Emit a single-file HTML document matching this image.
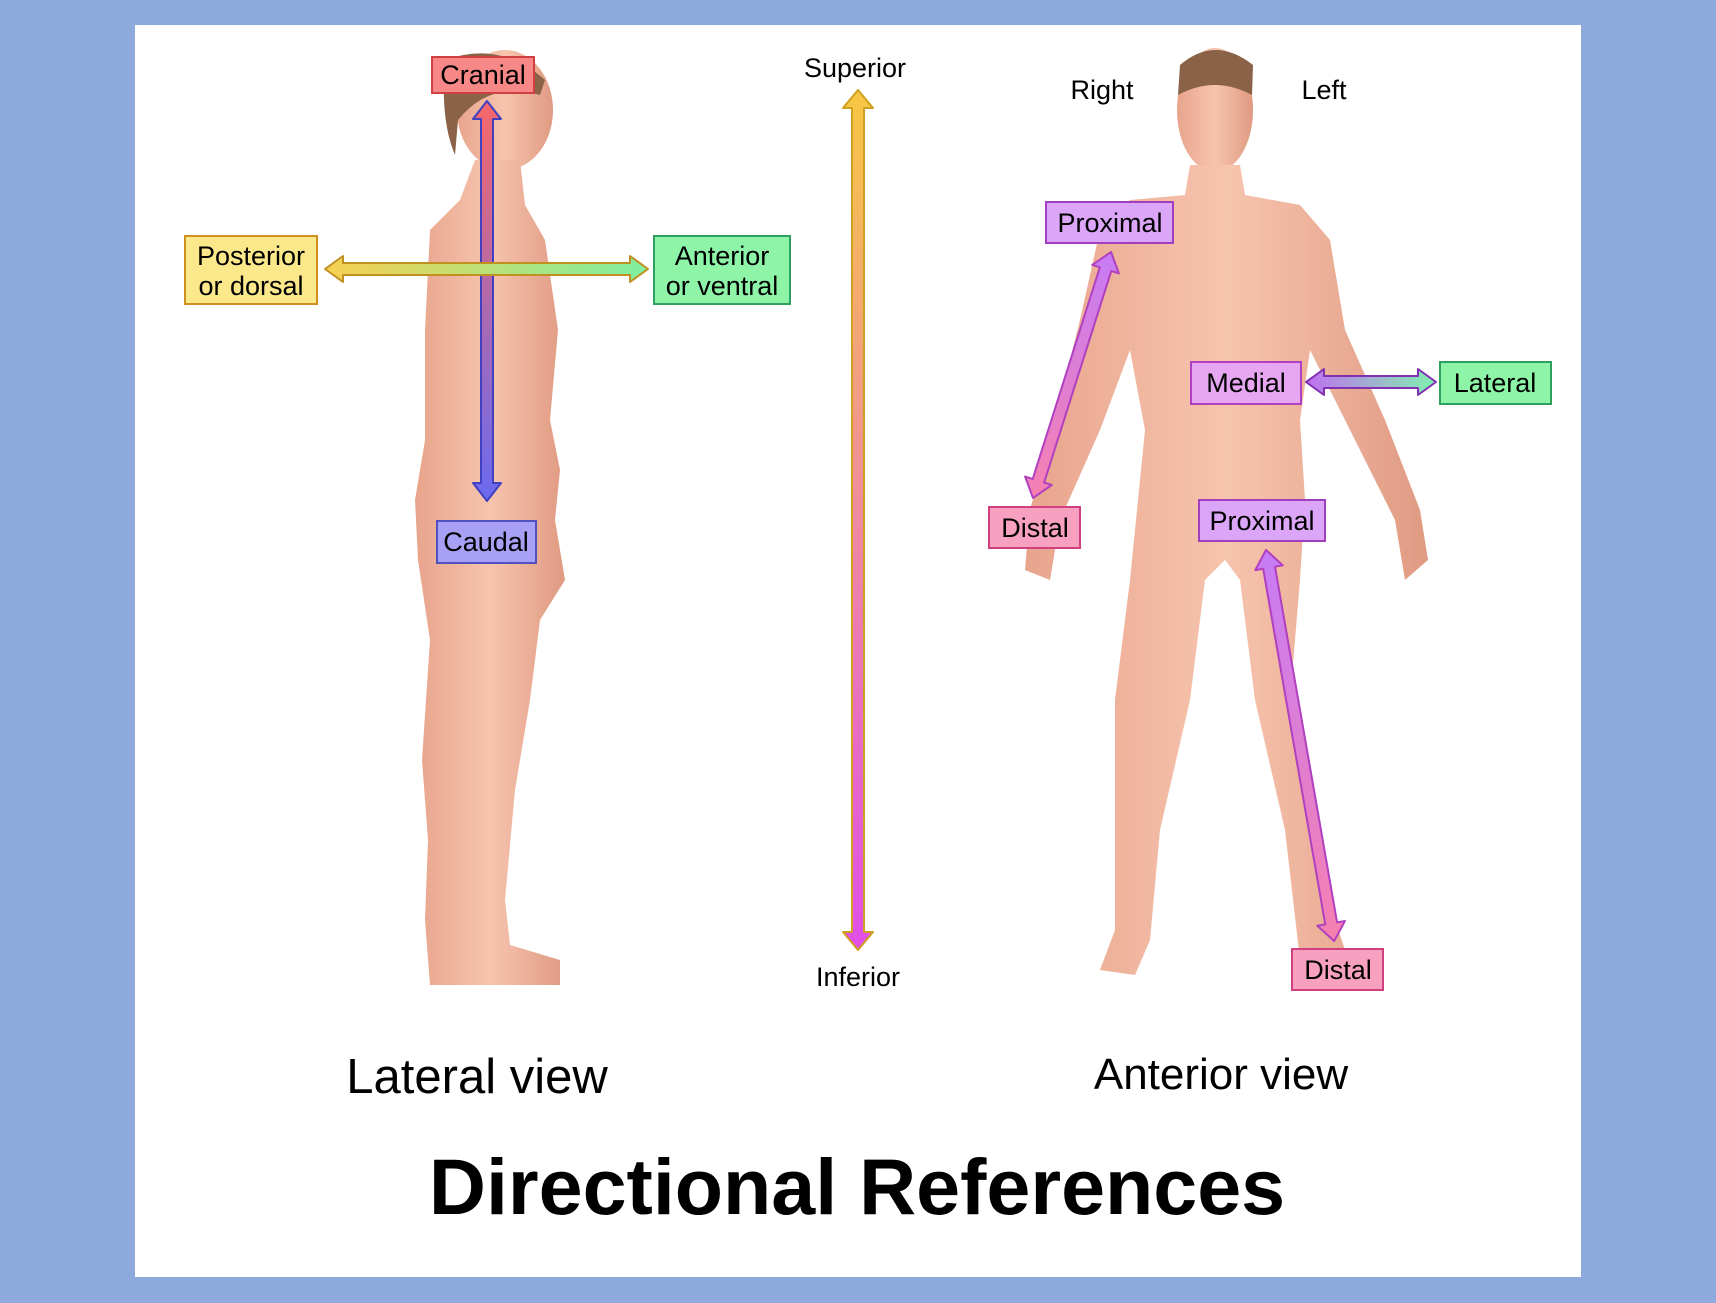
<!DOCTYPE html>
<html><head><meta charset="utf-8"><style>
body{margin:0;background:#8eaadc;width:1716px;height:1303px;overflow:hidden;font-family:"Liberation Sans",sans-serif}
svg{position:absolute;left:0;top:0}
</style></head><body>
<svg width="1716" height="1303" viewBox="0 0 1716 1303">
<defs>
<linearGradient id="skin" x1="0" x2="1"><stop offset="0" stop-color="#e8a48c"/><stop offset="0.5" stop-color="#f7c4ae"/><stop offset="1" stop-color="#e09a82"/></linearGradient>
<linearGradient id="gv" x1="0" y1="0" x2="0" y2="1"><stop offset="0" stop-color="#f7c842"/><stop offset="0.5" stop-color="#f08aa0"/><stop offset="1" stop-color="#e14ee8"/></linearGradient>
<linearGradient id="gc" x1="0" y1="0" x2="0" y2="1"><stop offset="0" stop-color="#f86868"/><stop offset="1" stop-color="#6a6af0"/></linearGradient>
<linearGradient id="gh" x1="0" x2="1"><stop offset="0" stop-color="#f7d050"/><stop offset="1" stop-color="#7ef0a0"/></linearGradient>
<linearGradient id="gm" x1="0" x2="1"><stop offset="0" stop-color="#c070f0"/><stop offset="1" stop-color="#80f0b0"/></linearGradient>
<linearGradient id="ga" x1="0" y1="0" x2="0" y2="1"><stop offset="0" stop-color="#c77cf5"/><stop offset="1" stop-color="#f580b0"/></linearGradient>
</defs>
<rect x="135" y="25" width="1446" height="1252" fill="#fff"/>
<!-- lateral body -->
<g fill="url(#skin)">
<ellipse cx="505" cy="110" rx="48" ry="60"/>
<path d="M475 160 L520 160 L525 205 L545 240 L558 330 L550 420 L560 470 L555 520 L565 580 L540 620 L530 700 L515 790 L505 900 L510 945 L560 960 L560 985 L430 985 L425 920 L428 840 L422 760 L430 640 L418 560 L415 500 L425 440 L425 330 L430 230 L460 200 Z"/>
</g>
<path d="M445 60 Q500 40 545 80 L540 95 Q490 80 458 120 L455 155 Q440 120 445 60Z" fill="#8a6248"/>
<!-- anterior body -->
<g fill="url(#skin)">
<ellipse cx="1215" cy="110" rx="38" ry="62"/>
<path d="M1190 165 L1240 165 L1245 195 L1300 205 L1330 240 L1345 330 L1385 420 L1420 510 L1428 560 L1405 580 L1395 520 L1350 430 L1310 350 L1300 420 L1305 500 L1300 580 L1290 700 L1320 830 L1335 920 L1345 950 L1335 965 L1300 960 L1285 830 L1255 700 L1240 580 L1225 560 L1215 570 L1205 580 L1190 700 L1160 830 L1150 940 L1135 975 L1100 970 L1115 930 L1115 830 L1115 700 L1130 580 L1145 430 L1130 350 L1100 430 L1060 520 L1050 580 L1025 570 L1030 510 L1055 420 L1080 320 L1100 230 L1130 200 L1185 195 Z"/>
</g>
<path d="M1180 65 Q1215 35 1253 65 L1252 95 Q1215 75 1178 95Z" fill="#8a6248"/>
<!-- arrows -->
<g stroke-width="2" stroke-linejoin="round">
<path d="M858 90 L873 108 L864 108 L864 932 L873 932 L858 950 L843 932 L852 932 L852 108 L843 108 Z" fill="url(#gv)" stroke="#d0a020"/>
<path d="M487 101 L501 119 L493 119 L493 483 L501 483 L487 501 L473 483 L481 483 L481 119 L473 119 Z" fill="url(#gc)" stroke="#4040c0"/>
<path d="M325 269 L343 256 L343 263 L630 263 L630 256 L648 269 L630 282 L630 275 L343 275 L343 282 Z" fill="url(#gh)" stroke="#c09020"/>
<path d="M1306 382 L1324 369 L1324 376 L1418 376 L1418 369 L1436 382 L1418 395 L1418 388 L1324 388 L1324 395 Z" fill="url(#gm)" stroke="#8030b0"/>
<g transform="translate(1111,252) rotate(17.6)"><path d="M0 0 L14 18 L6 18 L6 240 L14 240 L0 258 L-14 240 L-6 240 L-6 18 L-14 18 Z" fill="url(#ga)" stroke="#b040c0"/></g>
<g transform="translate(1266,550) rotate(-9.9)"><path d="M0 0 L14 18 L6 18 L6 379 L14 379 L0 397 L-14 379 L-6 379 L-6 18 L-14 18 Z" fill="url(#ga)" stroke="#b040c0"/></g>
</g>
<!-- boxes -->
<g stroke-width="2" font-size="27" text-anchor="middle">
<rect x="432" y="57" width="102" height="36" fill="#f88888" stroke="#d04040"/><text x="483" y="84" stroke="none" fill="#000">Cranial</text>
<rect x="185" y="236" width="132" height="68" fill="#fbe88a" stroke="#d09020"/><text x="251" y="265" stroke="none" fill="#000">Posterior</text><text x="251" y="295" stroke="none" fill="#000">or dorsal</text>
<rect x="654" y="236" width="136" height="68" fill="#8ef5a8" stroke="#30a060"/><text x="722" y="265" stroke="none" fill="#000">Anterior</text><text x="722" y="295" stroke="none" fill="#000">or ventral</text>
<rect x="437" y="521" width="99" height="42" fill="#a8a0f5" stroke="#5050c0"/><text x="486" y="551" stroke="none" fill="#000">Caudal</text>
<rect x="1046" y="202" width="127" height="41" fill="#dba6f8" stroke="#a040c0"/><text x="1110" y="232" stroke="none" fill="#000">Proximal</text>
<rect x="1191" y="362" width="110" height="42" fill="#e6a6f2" stroke="#b040c0"/><text x="1246" y="392" stroke="none" fill="#000">Medial</text>
<rect x="1440" y="362" width="111" height="42" fill="#8ef5a8" stroke="#30a060"/><text x="1495" y="392" stroke="none" fill="#000">Lateral</text>
<rect x="989" y="507" width="91" height="41" fill="#f8a0c0" stroke="#d04080"/><text x="1035" y="537" stroke="none" fill="#000">Distal</text>
<rect x="1199" y="500" width="126" height="41" fill="#dba6f8" stroke="#a040c0"/><text x="1262" y="530" stroke="none" fill="#000">Proximal</text>
<rect x="1292" y="949" width="91" height="41" fill="#f8a0c0" stroke="#d04080"/><text x="1338" y="979" stroke="none" fill="#000">Distal</text>
</g>
<g font-size="27" text-anchor="middle" fill="#000">
<text x="855" y="77">Superior</text>
<text x="858" y="986">Inferior</text>
<text x="1102" y="99">Right</text>
<text x="1324" y="99">Left</text>
<text x="477" y="1093" font-size="49">Lateral view</text>
<text x="1221" y="1089" font-size="44">Anterior view</text>
<text x="857" y="1214" font-size="79" font-weight="bold">Directional References</text>
</g>
</svg>
</body></html>
